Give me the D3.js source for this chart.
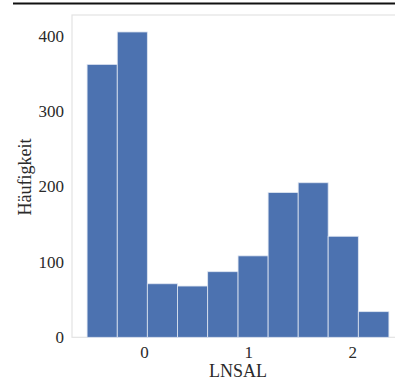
<!DOCTYPE html>
<html>
<head>
<meta charset="utf-8">
<script src="https://cdn.jsdelivr.net/npm/d3@7"></script>
<style>
  body { margin: 0; background: #fff; }
  svg, svg text { font-family: 'Liberation Serif', 'DejaVu Serif', serif !important; }
</style>
</head>
<body>
<svg id="chart" width="395" height="383"></svg>
<script>
// histogram of LNSAL
const binEdges = [-0.548, -0.258, 0.031, 0.321, 0.611, 0.903, 1.192, 1.481, 1.769, 2.059, 2.353]
const counts = [362, 405, 71, 68, 87, 108, 192, 205, 134, 34]
const xTicks = [0, 1, 2]
const yTicks = [0, 100, 200, 300, 400]

const svg = d3.select('#chart')

const x = d3.scaleLinear().domain([-0.693, 2.498]).range([72, 404])
const y = d3.scaleLinear().domain([0, 427.5]).range([337.3, 15])

// black rule at the very top
svg.append('line')
  .attr('x1', 13).attr('x2', 395)
  .attr('y1', 3.5).attr('y2', 3.5)
  .attr('stroke', '#111').attr('stroke-width', 2)

// frame
const frame = svg.append('g').attr('stroke', '#e3e3e3').attr('stroke-width', 1.2).attr('fill', 'none')
frame.append('rect')
  .attr('x', x.range()[0]).attr('y', y.range()[1])
  .attr('width', x.range()[1] - x.range()[0])
  .attr('height', y.range()[0] - y.range()[1])

const bins = counts.map((c, i) => ({ x0: binEdges[i], x1: binEdges[i + 1], n: c }))

svg.append('g')
  .selectAll('rect')
  .data(bins)
  .enter().append('rect')
  .attr('x', d => x(d.x0))
  .attr('width', d => x(d.x1) - x(d.x0))
  .attr('y', d => y(d.n))
  .attr('height', d => y(0) - y(d.n))
  .attr('fill', '#4c72b0')
  .attr('stroke', '#dfe6f2')
  .attr('stroke-width', 0.8)

// axes, no tick marks
const xAxis = svg.append('g')
  .attr('transform', `translate(0,${y(0)})`)
  .call(d3.axisBottom(x).tickValues(xTicks).tickFormat(d3.format('d')).tickSize(0).tickPadding(9))
xAxis.select('.domain').remove()

const yAxis = svg.append('g')
  .attr('transform', `translate(${x.range()[0]},0)`)
  .call(d3.axisLeft(y).tickValues(yTicks).tickFormat(d3.format('d')).tickSize(0).tickPadding(8))
yAxis.select('.domain').remove()

svg.selectAll('g').attr('font-family', null)
svg.selectAll('.tick text')
  .attr('font-size', 17)
  .attr('fill', '#2a2a2a')

svg.append('text')
  .attr('x', 238).attr('y', 377)
  .attr('text-anchor', 'middle')
  .attr('font-size', 18)
  .attr('fill', '#2a2a2a')
  .text('LNSAL')

svg.append('text')
  .attr('transform', 'translate(31,177) rotate(-90)')
  .attr('text-anchor', 'middle')
  .attr('font-size', 18)
  .attr('fill', '#2a2a2a')
  .text('Häufigkeit')
</script>
</body>
</html>
